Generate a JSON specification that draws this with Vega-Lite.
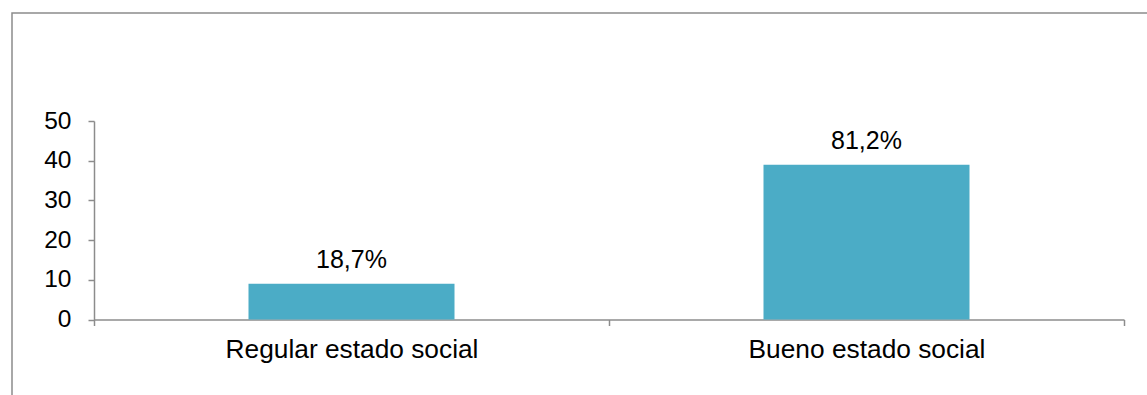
{
  "$schema": "https://vega.github.io/schema/vega-lite/v6.json",
  "autosize": {"type": "none"},
  "padding": {"left": 12, "top": 13, "right": 0, "bottom": 0},
  "width": 1145,
  "height": 390,
  "background": "white",
  "config": {
    "view": {"stroke": "#8c8c8c", "strokeWidth": 1.5},
    "font": "Liberation Sans"
  },
  "data": {
    "values": [
      {"categoria": "Regular estado social", "valor": 9, "etiqueta": "18,7%"},
      {"categoria": "Bueno estado social", "valor": 39, "etiqueta": "81,2%"}
    ]
  },
  "encoding": {
    "x": {
      "field": "categoria",
      "type": "nominal",
      "sort": null,
      "scale": {"range": [82, 1112], "paddingInner": 0, "paddingOuter": 0},
      "axis": {
        "title": null,
        "labelAngle": 0,
        "labelLimit": 0,
        "offset": -83.5,
        "tickBand": "extent",
        "domainColor": "#8c8c8c",
        "domainWidth": 1.5,
        "tickColor": "#8c8c8c",
        "tickWidth": 1.5,
        "tickSize": 6,
        "labelFontSize": 26.3,
        "labelColor": "#000000",
        "labelPadding": 11,
        "labelFont": "Liberation Sans"
      }
    },
    "y": {
      "field": "valor",
      "type": "quantitative",
      "scale": {"domain": [0, 50], "range": [306.5, 108], "nice": false},
      "axis": {
        "title": null,
        "values": [0, 10, 20, 30, 40, 50],
        "grid": false,
        "offset": -82,
        "domainColor": "#8c8c8c",
        "domainWidth": 1.5,
        "tickColor": "#8c8c8c",
        "tickWidth": 1.5,
        "tickSize": 6,
        "labelFontSize": 24.5,
        "labelColor": "#000000",
        "labelPadding": 17,
        "labelFont": "Liberation Sans"
      }
    }
  },
  "layer": [
    {"mark": {"type": "bar", "color": "#4bacc6", "width": {"band": 0.4}}},
    {
      "mark": {"type": "text", "fontSize": 25, "color": "#000000", "baseline": "alphabetic", "dy": -16, "font": "Liberation Sans"},
      "encoding": {"text": {"field": "etiqueta"}}
    }
  ]
}
